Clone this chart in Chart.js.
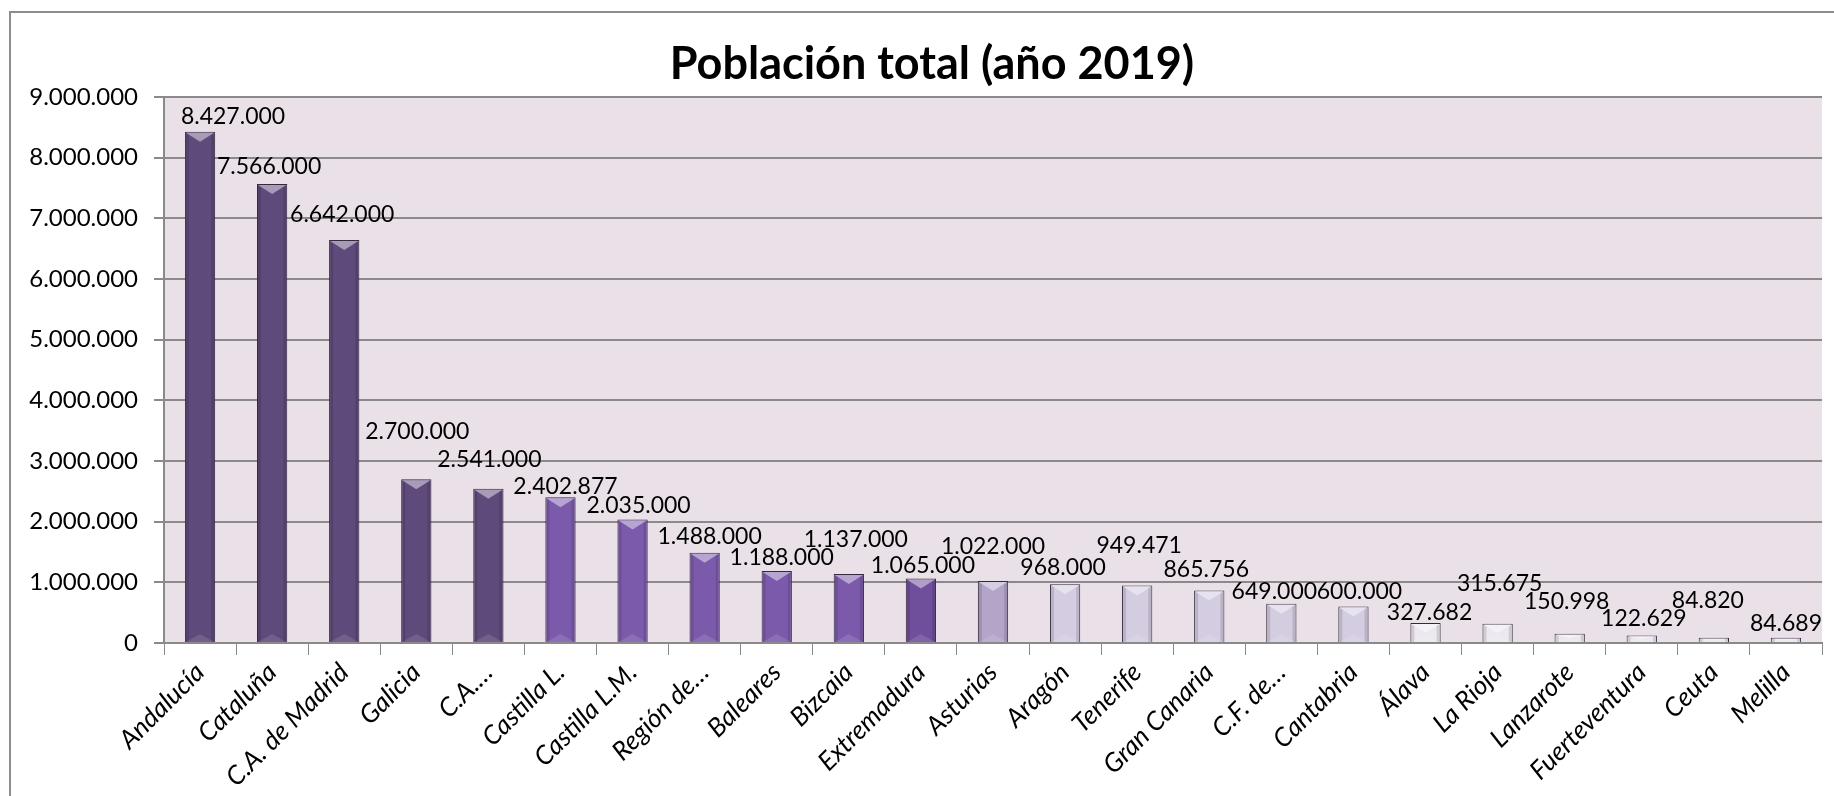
<!DOCTYPE html>
<html>
<head>
<meta charset="utf-8">
<script src="https://cdn.jsdelivr.net/npm/chart.js@4.4.1/dist/chart.umd.min.js"></script>
<style>
  html, body { margin: 0; padding: 0; background: #fff; overflow: hidden; }
  #marco { position: absolute; left: 9px; top: 11px; width: 2000px; height: 1000px; border: 2px solid #8d8d8d; }
  #wrap { position: absolute; left: 0; top: 0; width: 1834px; height: 796px; }
</style>
</head>
<body>
<div id="marco"></div>
<div id="wrap"><canvas id="grafico"></canvas></div>
<script>
// datos del gráfico
const regiones = ['Andalucía', 'Cataluña', 'C.A. de Madrid', 'Galicia', 'C.A.…', 'Castilla L.', 'Castilla L.M.',
  'Región de…', 'Baleares', 'Bizcaia', 'Extremadura', 'Asturias', 'Aragón', 'Tenerife', 'Gran Canaria',
  'C.F. de…', 'Cantabria', 'Álava', 'La Rioja', 'Lanzarote', 'Fuerteventura', 'Ceuta', 'Melilla'];
const poblacion = [8427000, 7566000, 6642000, 2700000, 2541000, 2402877, 2035000,
  1488000, 1188000, 1137000, 1065000, 1022000, 968000, 949471, 865756,
  649000, 600000, 327682, 315675, 150998, 122629, 84820, 84689];
const ejeY = [0, 1000000, 2000000, 3000000, 4000000, 5000000, 6000000, 7000000, 8000000, 9000000];
const titulo = 'Población total (año 2019)';

// estilo
const colores = ['#5f4a7c', '#5f4a7c', '#5f4a7c', '#5f4a7c', '#5f4a7c', '#7b5aab', '#7b5aab',
  '#7b5aab', '#7b5aab', '#7b5aab', '#6f4f9c', '#b3a4c8', '#d4cce0', '#d4cce0', '#d4cce0',
  '#d4cce0', '#d4cce0', '#ece8f0', '#ece8f0', '#ece8f0', '#ece8f0', '#ece8f0', '#ece8f0'];
// desplazamiento manual de las etiquetas (px), como en el original
const etiquetaDx = [33, -3, -2, 1, 1, 5, 6, 5, 5, 7, 2, 0, -2, 2, -3, -7, 6, 4, 2, -3, 2, -6, 0];
const etiquetaSubida = [15, 17, 25, 48, 29, 11, 14, 16, 13, 34, 13, 34, 17, 40, 21, 12, 15, 11, 40, 32, 17, 37, 14];
const fuente = 'Lato, "Open Sans", sans-serif';

function puntos(n) {
  return String(Math.round(n)).replace(/\B(?=(\d{3})+(?!\d))/g, '.');
}

function aclarar(hex, f) {
  const r = parseInt(hex.substr(1, 2), 16), g = parseInt(hex.substr(3, 2), 16), b = parseInt(hex.substr(5, 2), 16);
  const m = c => Math.round(c + (255 - c) * f);
  return `rgb(${m(r)},${m(g)},${m(b)})`;
}

const fondoPlot = {
  id: 'fondoPlot',
  beforeDraw(chart) {
    const { ctx, chartArea: a } = chart;
    ctx.save();
    ctx.fillStyle = '#e9e1e7';
    ctx.fillRect(a.left, a.top, a.right - a.left, a.bottom - a.top);
    ctx.restore();
  }
};

// título (el original no está centrado en el lienzo)
const cabecera = {
  id: 'cabecera',
  afterDraw(chart) {
    const ctx = chart.ctx;
    ctx.save();
    ctx.font = 'bold 45px ' + fuente;
    ctx.fillStyle = '#000';
    ctx.textAlign = 'center';
    ctx.textBaseline = 'middle';
    ctx.fillText(titulo, chart.width / 2 + 15, 64);
    ctx.restore();
  }
};

const bisel = {
  id: 'bisel',
  afterDatasetsDraw(chart) {
    const ctx = chart.ctx;
    const meta = chart.getDatasetMeta(0);
    ctx.save();
    meta.data.forEach((bar, i) => {
      const w = bar.width, x0 = bar.x - w / 2, x1 = bar.x + w / 2;
      const top = bar.y, base = bar.base, h = base - top;
      // sombra lateral
      ctx.fillStyle = 'rgba(0,0,0,0.12)';
      ctx.fillRect(x0 + 1, top + 1, 3, h - 1);
      ctx.fillRect(x1 - 4, top + 1, 3, h - 1);
      // cara superior
      const t = Math.min(10, h / 2);
      ctx.fillStyle = aclarar(colores[i], 0.45);
      ctx.beginPath();
      ctx.moveTo(x0 + 1, top + 1);
      ctx.lineTo(x1 - 1, top + 1);
      ctx.lineTo(bar.x, top + t);
      ctx.closePath();
      ctx.fill();
      // cara inferior
      const b = Math.min(8, h / 2);
      ctx.fillStyle = 'rgba(255,255,255,0.12)';
      ctx.beginPath();
      ctx.moveTo(x0 + 1, base);
      ctx.lineTo(x1 - 1, base);
      ctx.lineTo(bar.x, base - b);
      ctx.closePath();
      ctx.fill();
    });
    ctx.restore();
  }
};

const etiquetas = {
  id: 'etiquetas',
  afterDatasetsDraw(chart) {
    const ctx = chart.ctx;
    const meta = chart.getDatasetMeta(0);
    ctx.save();
    ctx.font = '23px ' + fuente;
    ctx.fillStyle = '#000';
    ctx.textAlign = 'center';
    ctx.textBaseline = 'middle';
    meta.data.forEach((bar, i) => {
      ctx.fillText(puntos(poblacion[i]), bar.x + etiquetaDx[i], bar.y - etiquetaSubida[i]);
    });
    ctx.restore();
  }
};

new Chart(document.getElementById('grafico'), {
  type: 'bar',
  data: {
    labels: regiones,
    datasets: [{
      data: poblacion,
      backgroundColor: colores,
      borderColor: '#35293f',
      borderWidth: 1,
      barPercentage: 0.42,
      categoryPercentage: 1
    }]
  },
  options: {
    responsive: true,
    maintainAspectRatio: false,
    animation: false,
    layout: { padding: { left: 0, right: 12, top: 97, bottom: 0 } },
    plugins: {
      legend: { display: false },
      tooltip: { enabled: false },
      title: { display: false }
    },
    scales: {
      x: {
        grid: { drawOnChartArea: false, drawTicks: true, tickLength: 12, color: '#8a8a8a', offset: true },
        border: { color: '#8a8a8a', width: 2 },
        ticks: {
          color: '#000',
          minRotation: 45,
          maxRotation: 45,
          autoSkip: false,
          padding: 2,
          font: { family: fuente, size: 26, style: 'italic' }
        },
        afterFit(s) { s.height = 153; }
      },
      y: {
        min: ejeY[0],
        max: ejeY[ejeY.length - 1],
        afterBuildTicks(s) { s.ticks = ejeY.map(v => ({ value: v })); },
        grid: { color: '#8a8a8a', lineWidth: 2, tickLength: 10 },
        border: { color: '#8a8a8a', width: 2 },
        ticks: {
          color: '#000',
          padding: 16,
          font: { family: fuente, size: 24 },
          callback: v => puntos(v)
        },
        afterFit(s) { s.width = 164; }
      }
    }
  },
  plugins: [fondoPlot, bisel, etiquetas, cabecera]
});
</script>
</body>
</html>
